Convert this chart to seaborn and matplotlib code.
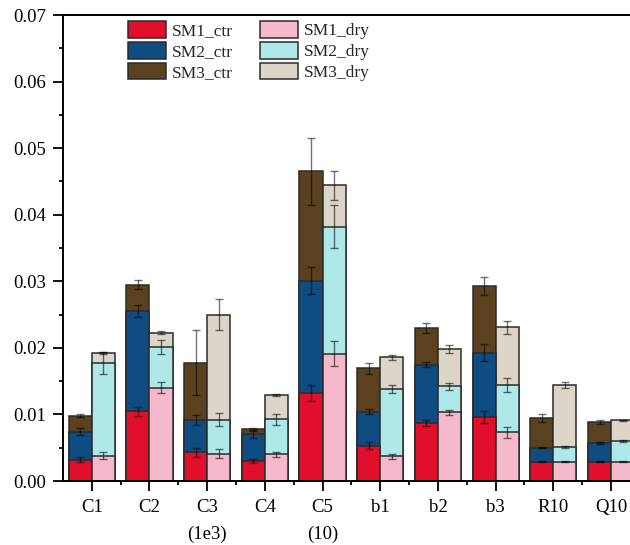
import numpy as np
import pandas as pd
import matplotlib
matplotlib.use("Agg")
import matplotlib.pyplot as plt
from matplotlib.patches import Patch
from matplotlib.ticker import MultipleLocator, FormatStrFormatter
import seaborn as sns

sns.set_style("white")
plt.rcParams['font.family'] = ['Liberation Serif', 'DejaVu Serif']

categories = ['C1', 'C2', 'C3', 'C4', 'C5', 'b1', 'b2', 'b3', 'R10', 'Q10']
tick_labels = ['C1', 'C2', 'C3\n(1e3)', 'C4', 'C5\n(10)', 'b1', 'b2', 'b3', 'R10', 'Q10']

sm1_ctr = [0.0032, 0.0105, 0.0043, 0.0030, 0.0132, 0.0053, 0.0087, 0.0096, 0.0029, 0.0029]
sm2_ctr = [0.0042, 0.0150, 0.0048, 0.0040, 0.0169, 0.0051, 0.0088, 0.0097, 0.0021, 0.0028]
sm3_ctr = [0.0024, 0.0040, 0.0087, 0.0008, 0.0164, 0.0065, 0.0055, 0.0100, 0.0045, 0.0032]
sm1_dry = [0.0038, 0.0140, 0.0041, 0.0040, 0.0191, 0.0037, 0.0103, 0.0073, 0.0029, 0.0029]
sm2_dry = [0.0139, 0.0061, 0.0051, 0.0053, 0.0191, 0.0101, 0.0039, 0.0071, 0.0022, 0.0031]
sm3_dry = [0.0015, 0.0022, 0.0158, 0.0036, 0.0062, 0.0048, 0.0056, 0.0087, 0.0093, 0.0031]

err_sm1_ctr = [0.00035, 0.00068, 0.00063, 0.0003, 0.0012, 0.0005, 0.0005, 0.00088, 0.0001, 0.00005]
err_sm2_ctr = [0.00055, 0.0009, 0.00075, 0.0005, 0.0020, 0.00038, 0.00042, 0.00123, 0.0001, 0.0001]
err_sm3_ctr = [0.0002, 0.00065, 0.0049, 0.00015, 0.0050, 0.00085, 0.0008, 0.0014, 0.00063, 0.0003]
err_sm1_dry = [0.0005, 0.0008, 0.00065, 0.00035, 0.0019, 0.00033, 0.00038, 0.00088, 0.0001, 0.00005]
err_sm2_dry = [0.00165, 0.00108, 0.00095, 0.00083, 0.0032, 0.00065, 0.00058, 0.0010, 0.0001, 0.0001]
err_sm3_dry = [0.00015, 0.00027, 0.00233, 0.0002, 0.0022, 0.00035, 0.00058, 0.00095, 0.00045, 0.0001]

colors_ctr = ['#E0102C', '#0F4C81', '#5A4120']
colors_dry = ['#F6B9CB', '#AEE8E8', '#DDD6C8']
labels_ctr = ['SM1_ctr', 'SM2_ctr', 'SM3_ctr']
labels_dry = ['SM1_dry', 'SM2_dry', 'SM3_dry']

ctr_layers = [np.array(sm1_ctr), np.array(sm2_ctr), np.array(sm3_ctr)]
dry_layers = [np.array(sm1_dry), np.array(sm2_dry), np.array(sm3_dry)]
ctr_cum = np.cumsum(ctr_layers, axis=0)
dry_cum = np.cumsum(dry_layers, axis=0)
ctr_err = [err_sm1_ctr, err_sm2_ctr, err_sm3_ctr]
dry_err = [err_sm1_dry, err_sm2_dry, err_sm3_dry]

fig = plt.figure(figsize=(6.3, 5.45), dpi=100)
ax = fig.add_axes([62.9 / 630, 64 / 545, 577 / 630, 466 / 545])

# draw stacked layers from top cumulative down
for k in [2, 1, 0]:
    df = pd.DataFrame({
        'cat': categories * 2,
        'treat': ['ctr'] * len(categories) + ['dry'] * len(categories),
        'val': list(ctr_cum[k]) + list(dry_cum[k]),
    })
    sns.barplot(data=df, x='cat', y='val', hue='treat', hue_order=['ctr', 'dry'],
                order=categories, palette=[colors_ctr[k], colors_dry[k]],
                saturation=1, width=0.8, dodge=True, errorbar=None,
                edgecolor='#2b2b2b', linewidth=1.1, legend=False, ax=ax, zorder=2)

xpos = np.arange(len(categories))
for k in range(3):
    ax.errorbar(xpos - 0.2, ctr_cum[k], yerr=ctr_err[k], fmt='none',
                ecolor='black', alpha=0.55, elinewidth=1.0, capsize=3.2,
                capthick=1.0, zorder=5)
    ax.errorbar(xpos + 0.2, dry_cum[k], yerr=dry_err[k], fmt='none',
                ecolor='black', alpha=0.55, elinewidth=1.0, capsize=3.2,
                capthick=1.0, zorder=5)

ax.set_xlim(-0.5, 9.5)
ax.set_ylim(0, 0.07)
ax.set_xlabel('')
ax.set_ylabel('')
ax.set_xticks(xpos)
ax.set_xticklabels(tick_labels, linespacing=1.7)
ax.set_xticks(xpos[:-1] + 0.5, minor=True)
ax.yaxis.set_major_locator(MultipleLocator(0.01))
ax.yaxis.set_minor_locator(MultipleLocator(0.005))
ax.yaxis.set_major_formatter(FormatStrFormatter('%.2f'))

for side in ['left', 'bottom', 'top', 'right']:
    ax.spines[side].set_visible(True)
    ax.spines[side].set_linewidth(1.4)
    ax.spines[side].set_color('black')

ax.tick_params(axis='both', which='major', direction='out', length=7, width=1.3,
               labelsize=13.5, color='black', labelcolor='black')
ax.tick_params(axis='both', which='minor', direction='out', length=3, width=1.3,
               color='black')
ax.tick_params(axis='x', which='major', pad=6)
ax.tick_params(axis='y', which='major', pad=5)
ax.tick_params(top=False, right=False, which='both')
ax.tick_params(axis='x', which='both', bottom=True)
ax.tick_params(axis='y', which='both', left=True)

handles = []
labels = []
for k in range(3):
    handles.append(Patch(facecolor=colors_ctr[k], edgecolor='#2b2b2b', linewidth=1.1))
    labels.append(labels_ctr[k])
for k in range(3):
    handles.append(Patch(facecolor=colors_dry[k], edgecolor='#2b2b2b', linewidth=1.1))
    labels.append(labels_dry[k])

leg = ax.legend(handles, labels, ncol=2, loc='upper left',
                bbox_to_anchor=(128 / 630, 1 - 21 / 545), bbox_transform=fig.transFigure,
                frameon=False, fontsize=12.5, handlelength=2.2, handleheight=1.1,
                labelspacing=0.15, columnspacing=1.6, handletextpad=0.3,
                borderaxespad=0, borderpad=0)

fig.savefig('out.png', dpi=100)
